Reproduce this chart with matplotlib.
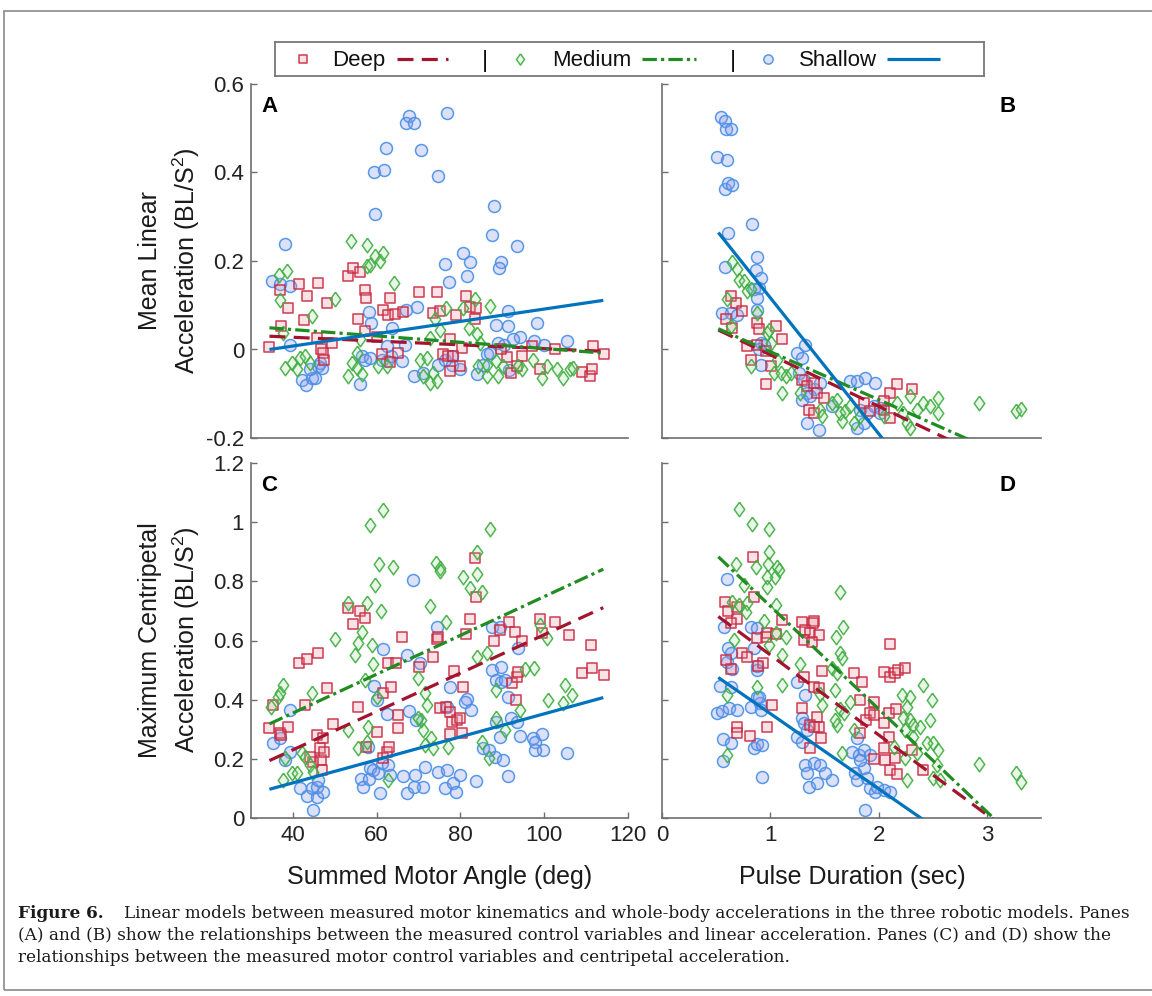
import numpy as np
import matplotlib
matplotlib.use("Agg")
import matplotlib.pyplot as plt
from matplotlib.patches import Rectangle

plt.rcParams['font.family'] = ['Liberation Sans', 'DejaVu Sans']
plt.rcParams['mathtext.fontset'] = 'custom'
plt.rcParams['mathtext.rm'] = 'Liberation Sans'
plt.rcParams['mathtext.it'] = 'Liberation Sans:italic'

# ---- data: (x, y) pairs ----
# panel A: summed motor angle vs mean linear acceleration
a_shallow = [(34.9, 0.154), (36.9, 0.147), (38.0, 0.239), (39.3, 0.143), (39.3, 0.011), (42.1, -0.068),
             (43.1, -0.081), (44.5, -0.064), (45.3, -0.064), (46.1, -0.038), (46.5, -0.030), (46.9, -0.041),
             (44.1, -0.045), (59.4, 0.401), (61.7, 0.405), (62.2, 0.456), (59.7, 0.307), (66.9, 0.512),
             (67.6, 0.527), (68.9, 0.512), (70.7, 0.450), (74.6, 0.393), (76.9, 0.535), (87.9, 0.324),
             (87.5, 0.258), (93.4, 0.234), (89.6, 0.197), (89.3, 0.185), (76.2, 0.194), (77.3, 0.152),
             (81.6, 0.166), (80.7, 0.218), (82.3, 0.198), (58.2, 0.085), (58.6, 0.060), (63.6, 0.049),
             (66.9, 0.090), (69.7, 0.096), (91.4, 0.088), (88.6, 0.056), (91.3, 0.054), (98.2, 0.059),
             (105.5, 0.019), (97.6, 0.019), (99.9, 0.011), (94.1, 0.029), (92.6, 0.023), (89.0, 0.015),
             (90.4, 0.011), (56.0, -0.077), (56.4, -0.015), (57.2, -0.023), (58.4, -0.019), (61.2, -0.023),
             (62.4, -0.026), (63.4, -0.015), (66.0, -0.025), (66.8, 0.011), (69.0, -0.060), (71.1, -0.053),
             (74.7, -0.034), (76.3, -0.023), (78.1, -0.014), (77.9, -0.034), (79.9, -0.045), (83.9, -0.056),
             (85.5, -0.034), (86.3, -0.011), (87.1, -0.008), (91.7, -0.047), (62.4, 0.008)]
a_deep = [(34.3, 0.005), (36.9, 0.134), (37.2, 0.054), (38.9, 0.094), (41.5, 0.147), (42.7, 0.066),
          (43.3, 0.122), (46.1, 0.151), (45.8, 0.026), (46.7, 0.002), (47.3, -0.008), (47.5, -0.023),
          (48.2, 0.104), (49.4, 0.015), (53.2, 0.166), (54.3, 0.185), (56.0, 0.175), (55.5, 0.068),
          (57.1, 0.134), (57.5, 0.117), (57.2, 0.041), (61.6, 0.090), (62.8, 0.079), (63.2, 0.117),
          (64.4, 0.081), (66.2, 0.084), (60.0, 0.028), (61.2, -0.011), (63.2, -0.029), (65.2, -0.008),
          (70.1, 0.130), (73.4, 0.083), (74.3, 0.130), (75.0, 0.087), (77.5, 0.023), (78.9, 0.077),
          (80.3, 0.004), (81.3, 0.122), (82.3, 0.096), (83.6, 0.094), (83.5, 0.068), (75.9, -0.011),
          (77.1, -0.015), (78.3, -0.014), (79.9, -0.038), (77.5, -0.049), (92.1, -0.053), (93.4, -0.038),
          (94.6, -0.014), (91.0, -0.017), (89.6, 0.002), (102.6, 0.002), (99.0, -0.045), (108.9, -0.051),
          (110.9, -0.060), (111.3, -0.044), (111.7, 0.008), (114.3, -0.011), (97.0, 0.008)]
a_medium = [(36.8, 0.169), (38.5, 0.177), (36.9, 0.111), (37.7, 0.038), (38.1, -0.041), (39.7, -0.030),
            (40.9, -0.045), (41.7, -0.019), (42.9, -0.015), (44.5, 0.075), (44.1, -0.030), (50.1, 0.114),
            (53.9, 0.245), (57.8, 0.237), (57.6, 0.188), (58.4, 0.192), (59.6, 0.211), (60.8, 0.200),
            (61.6, 0.217), (64.1, 0.151), (53.2, -0.059), (54.0, -0.030), (55.2, -0.041), (56.4, -0.056),
            (56.0, 0.023), (55.2, -0.008), (60.4, -0.038), (62.4, -0.038), (70.3, -0.023), (71.1, -0.060),
            (71.9, -0.019), (72.7, -0.075), (73.5, -0.053), (74.3, -0.072), (73.9, 0.068), (75.1, 0.045),
            (72.7, 0.026), (76.6, 0.094), (80.7, 0.094), (82.1, 0.049), (83.5, 0.114), (83.9, 0.034),
            (87.1, 0.099), (84.7, 0.015), (84.3, -0.038), (86.3, -0.060), (88.6, -0.026), (89.0, -0.060),
            (90.2, -0.038), (97.4, -0.023), (99.4, -0.064), (100.6, -0.038), (103.0, -0.045), (104.6, -0.064),
            (106.2, -0.045), (106.9, -0.041), (93.8, -0.038), (94.6, -0.045), (86.3, -0.034)]

# panel B: pulse duration vs mean linear acceleration
b_shallow = [(0.543, 0.526), (0.580, 0.516), (0.589, 0.499), (0.641, 0.499), (0.512, 0.435), (0.598, 0.428),
             (0.580, 0.363), (0.610, 0.377), (0.650, 0.371), (0.834, 0.284), (0.613, 0.264), (0.580, 0.186),
             (0.880, 0.209), (0.865, 0.179), (0.911, 0.162), (0.850, 0.136), (0.896, 0.139), (0.558, 0.083),
             (0.635, 0.083), (0.696, 0.079), (0.880, 0.117), (0.880, 0.090), (0.911, 0.015), (0.942, 0.011),
             (0.896, 0.000), (0.911, -0.034), (1.248, -0.008), (1.294, -0.019), (1.325, 0.011), (1.264, -0.053),
             (1.310, -0.068), (1.340, -0.098), (1.402, -0.090), (1.463, -0.075), (1.340, -0.166), (1.448, -0.181),
             (1.571, -0.128), (1.739, -0.072), (1.801, -0.072), (1.877, -0.064), (1.969, -0.075), (1.831, -0.136),
             (1.893, -0.143), (1.954, -0.128), (2.015, -0.132), (1.801, -0.177), (1.862, -0.166), (2.015, -0.143),
             (1.294, -0.113), (1.371, -0.105)]
b_deep = [(0.635, 0.122), (0.681, 0.104), (0.742, 0.087), (0.589, 0.068), (0.650, 0.049), (0.880, 0.060),
          (0.896, 0.047), (1.049, 0.053), (1.110, 0.023), (0.788, 0.008), (0.819, -0.023), (0.880, 0.011),
          (0.957, -0.004), (0.957, -0.077), (1.003, -0.038), (1.294, -0.068), (1.340, -0.083), (1.402, -0.075),
          (1.433, -0.098), (1.494, -0.109), (1.356, -0.136), (1.402, -0.143), (1.862, -0.121), (1.923, -0.139),
          (2.046, -0.136), (2.107, -0.098), (2.169, -0.079), (2.307, -0.090), (2.107, -0.154), (2.046, -0.117)]
b_medium = [(0.650, 0.197), (0.696, 0.181), (0.712, 0.158), (0.758, 0.154), (0.788, 0.132), (0.819, 0.136),
            (0.604, 0.113), (0.635, 0.053), (0.880, 0.083), (0.972, 0.038), (0.988, 0.045), (1.003, 0.015),
            (1.064, -0.023), (0.819, -0.038), (1.034, -0.053), (1.095, -0.053), (1.141, -0.060), (1.110, -0.098),
            (1.279, -0.098), (1.463, -0.136), (1.479, -0.151), (1.571, -0.121), (1.617, -0.113), (1.647, -0.143),
            (1.663, -0.162), (1.693, -0.139), (1.770, -0.166), (2.169, -0.121), (2.230, -0.143), (2.291, -0.105),
            (2.261, -0.166), (2.353, -0.136), (2.414, -0.121), (2.475, -0.128), (2.552, -0.109), (2.552, -0.143),
            (2.926, -0.121), (3.273, -0.139), (3.319, -0.134), (1.831, -0.151), (1.739, -0.128), (1.187, -0.053),
            (2.291, -0.177), (2.046, -0.151)]

# panel C: summed motor angle vs maximum centripetal acceleration
c_shallow = [(35.2, 0.255), (36.9, 0.269), (39.3, 0.365), (39.3, 0.224), (38.1, 0.196), (41.7, 0.100),
             (43.4, 0.074), (44.5, 0.100), (45.7, 0.072), (45.8, 0.106), (47.1, 0.089), (46.1, 0.128),
             (44.9, 0.027), (61.6, 0.570), (59.4, 0.446), (60.0, 0.399), (62.4, 0.352), (67.2, 0.551),
             (67.6, 0.363), (70.3, 0.525), (69.5, 0.331), (56.3, 0.131), (56.8, 0.106), (58.2, 0.131),
             (58.4, 0.168), (58.0, 0.241), (59.2, 0.162), (60.4, 0.151), (61.2, 0.185), (62.8, 0.179),
             (63.2, 0.145), (60.8, 0.086), (66.4, 0.142), (67.2, 0.086), (69.2, 0.145), (71.1, 0.106),
             (74.7, 0.154), (76.2, 0.100), (76.7, 0.162), (78.3, 0.117), (78.9, 0.089), (79.9, 0.145),
             (83.7, 0.126), (81.6, 0.401), (81.1, 0.393), (82.5, 0.365), (76.7, 0.376), (77.5, 0.444),
             (74.5, 0.647), (68.6, 0.805), (87.5, 0.647), (89.4, 0.647), (87.5, 0.500), (89.8, 0.512),
             (88.6, 0.466), (89.8, 0.461), (90.6, 0.466), (91.4, 0.410), (92.0, 0.339), (93.4, 0.326),
             (94.2, 0.277), (89.4, 0.275), (88.6, 0.326), (88.2, 0.207), (90.2, 0.196), (91.4, 0.142),
             (85.5, 0.235), (86.7, 0.230), (97.4, 0.269), (97.8, 0.258), (99.4, 0.284), (99.8, 0.230),
             (97.8, 0.230), (105.5, 0.221), (93.8, 0.574), (68.8, 0.106), (71.5, 0.174)]
c_deep = [(34.3, 0.303), (35.3, 0.382), (36.9, 0.288), (37.2, 0.281), (38.9, 0.306), (41.5, 0.525),
          (43.3, 0.536), (42.9, 0.382), (46.1, 0.557), (45.8, 0.281), (46.5, 0.235), (46.7, 0.196),
          (47.3, 0.269), (47.5, 0.224), (48.2, 0.438), (46.9, 0.162), (44.9, 0.190), (44.1, 0.207),
          (49.5, 0.318), (53.2, 0.711), (54.3, 0.655), (56.0, 0.700), (57.2, 0.675), (55.5, 0.376),
          (57.5, 0.241), (60.0, 0.292), (61.4, 0.421), (61.6, 0.202), (62.4, 0.224), (63.0, 0.241),
          (63.4, 0.444), (62.8, 0.523), (64.6, 0.525), (65.2, 0.348), (65.2, 0.303), (66.0, 0.613),
          (70.1, 0.509), (73.4, 0.543), (74.3, 0.604), (74.7, 0.613), (75.0, 0.371), (76.6, 0.376),
          (77.5, 0.359), (78.1, 0.326), (78.5, 0.498), (79.1, 0.331), (79.9, 0.337), (77.5, 0.284),
          (80.7, 0.444), (81.3, 0.622), (82.3, 0.672), (80.3, 0.288), (83.5, 0.878), (83.6, 0.748),
          (87.9, 0.598), (89.4, 0.635), (91.7, 0.664), (93.0, 0.630), (94.6, 0.598), (92.2, 0.455),
          (93.3, 0.399), (93.4, 0.475), (93.8, 0.495), (99.0, 0.672), (99.4, 0.626), (102.6, 0.664),
          (106.0, 0.619), (108.9, 0.491), (111.3, 0.506), (111.1, 0.585), (114.3, 0.483)]
c_medium = [(34.7, 0.376), (36.5, 0.410), (36.9, 0.421), (37.7, 0.450), (38.1, 0.202), (39.7, 0.151),
            (37.7, 0.128), (40.9, 0.151), (42.1, 0.219), (42.9, 0.207), (44.5, 0.421), (44.1, 0.179),
            (44.9, 0.157), (50.1, 0.604), (53.2, 0.726), (54.8, 0.551), (55.6, 0.590), (56.4, 0.630),
            (57.2, 0.466), (57.6, 0.726), (58.4, 0.990), (57.6, 0.258), (58.0, 0.309), (58.8, 0.585),
            (59.2, 0.521), (59.6, 0.788), (60.0, 0.410), (60.6, 0.859), (61.0, 0.701), (61.6, 1.041),
            (62.8, 0.128), (64.0, 0.850), (55.6, 0.235), (53.2, 0.297), (69.9, 0.474), (71.5, 0.421),
            (71.9, 0.382), (72.7, 0.718), (74.2, 0.861), (75.0, 0.844), (75.1, 0.836), (76.6, 0.664),
            (77.1, 0.241), (80.7, 0.814), (82.3, 0.776), (83.9, 0.824), (83.9, 0.545), (85.1, 0.765),
            (86.3, 0.557), (87.1, 0.976), (83.9, 0.900), (88.6, 0.433), (88.6, 0.337), (85.1, 0.258),
            (86.7, 0.202), (90.6, 0.297), (94.2, 0.365), (95.4, 0.503), (97.6, 0.506), (99.0, 0.652),
            (100.6, 0.607), (101.0, 0.399), (104.6, 0.388), (105.0, 0.450), (106.6, 0.416), (71.1, 0.297),
            (73.0, 0.269), (73.5, 0.235), (71.5, 0.247), (70.7, 0.331), (69.9, 0.337)]

# panel D: pulse duration vs maximum centripetal acceleration
d_shallow = [(0.598, 0.807), (0.574, 0.647), (0.819, 0.647), (0.880, 0.641), (0.610, 0.574), (0.635, 0.557),
             (0.598, 0.528), (0.644, 0.503), (0.874, 0.514), (0.880, 0.500), (0.850, 0.574), (0.537, 0.446),
             (0.635, 0.444), (0.506, 0.356), (0.558, 0.363), (0.620, 0.371), (0.696, 0.365), (0.567, 0.266),
             (0.635, 0.252), (0.567, 0.194), (0.850, 0.235), (0.874, 0.249), (0.926, 0.247), (0.819, 0.376),
             (0.905, 0.388), (0.874, 0.410), (0.911, 0.365), (0.926, 0.137), (0.896, 0.410), (1.248, 0.461),
             (1.325, 0.416), (1.294, 0.337), (1.310, 0.320), (1.248, 0.275), (1.294, 0.258), (1.340, 0.297),
             (1.325, 0.179), (1.402, 0.185), (1.463, 0.179), (1.340, 0.151), (1.356, 0.106), (1.433, 0.117),
             (1.571, 0.128), (1.509, 0.151), (1.801, 0.269), (1.755, 0.224), (1.816, 0.213), (1.862, 0.230),
             (1.923, 0.213), (1.862, 0.168), (1.785, 0.151), (1.801, 0.128), (1.893, 0.134), (1.923, 0.100),
             (1.969, 0.089), (2.046, 0.095), (2.107, 0.089), (1.877, 0.027), (1.985, 0.106), (1.831, 0.196)]
d_deep = [(0.844, 0.881), (0.580, 0.731), (0.610, 0.701), (0.690, 0.714), (0.690, 0.672), (0.635, 0.660),
          (0.850, 0.748), (0.972, 0.624), (0.957, 0.613), (0.880, 0.607), (1.049, 0.622), (1.110, 0.669),
          (1.294, 0.664), (1.402, 0.667), (1.396, 0.658), (1.325, 0.635), (1.365, 0.626), (1.448, 0.619),
          (1.310, 0.602), (1.387, 0.596), (0.742, 0.557), (0.788, 0.543), (0.589, 0.534), (0.641, 0.503),
          (0.936, 0.525), (0.887, 0.514), (1.479, 0.498), (1.402, 0.444), (1.448, 0.438), (1.018, 0.382),
          (1.294, 0.373), (1.433, 0.343), (1.371, 0.314), (1.448, 0.309), (1.402, 0.309), (1.472, 0.269),
          (0.972, 0.306), (0.690, 0.306), (0.690, 0.286), (0.813, 0.277), (1.371, 0.235), (2.107, 0.588),
          (2.046, 0.492), (2.107, 0.478), (2.153, 0.489), (2.184, 0.500), (2.245, 0.508), (1.770, 0.491),
          (1.847, 0.459), (1.831, 0.399), (1.954, 0.393), (1.923, 0.354), (1.887, 0.331), (1.954, 0.348),
          (2.046, 0.320), (2.092, 0.356), (2.160, 0.367), (1.825, 0.288), (2.092, 0.275), (2.046, 0.235),
          (2.153, 0.202), (2.107, 0.162), (2.169, 0.148), (2.307, 0.230), (2.408, 0.162), (1.954, 0.199),
          (2.061, 0.196), (1.310, 0.475)]
d_medium = [(0.712, 1.043), (0.828, 0.993), (0.988, 0.976), (0.988, 0.900), (0.979, 0.859), (1.058, 0.847),
            (1.080, 0.838), (1.040, 0.816), (0.966, 0.814), (0.972, 0.782), (0.681, 0.859), (0.865, 0.850),
            (0.758, 0.788), (0.650, 0.731), (0.712, 0.720), (0.788, 0.728), (0.773, 0.697), (1.049, 0.720),
            (0.942, 0.667), (1.049, 0.624), (1.141, 0.613), (0.666, 0.602), (0.988, 0.585), (1.110, 0.551),
            (1.273, 0.521), (0.880, 0.444), (1.110, 0.450), (0.604, 0.416), (0.604, 0.213), (1.647, 0.765),
            (1.672, 0.647), (1.610, 0.613), (1.647, 0.557), (1.663, 0.540), (1.571, 0.506), (1.617, 0.489),
            (1.601, 0.433), (1.463, 0.419), (1.479, 0.382), (1.647, 0.367), (1.678, 0.354), (1.617, 0.314),
            (1.601, 0.331), (1.733, 0.393), (1.770, 0.297), (1.663, 0.219), (2.215, 0.416), (2.291, 0.410),
            (2.261, 0.376), (2.230, 0.337), (2.291, 0.331), (2.322, 0.314), (2.245, 0.297), (2.322, 0.275),
            (2.408, 0.450), (2.491, 0.399), (2.383, 0.309), (2.475, 0.331), (2.506, 0.252), (2.552, 0.230),
            (2.445, 0.252), (2.245, 0.202), (2.261, 0.128), (2.537, 0.179), (2.506, 0.134), (2.567, 0.128),
            (2.926, 0.183), (3.273, 0.151), (3.319, 0.123), (2.138, 0.241), (2.353, 0.219)]

# linear fits (slope, intercept) per panel: deep, medium, shallow
fit_a = [(-0.000427, 0.0447), (-0.000715, 0.0736), (0.001393, -0.0479)]
fit_b = [(-0.1164, 0.1045), (-0.1083, 0.1033), (-0.307, 0.424)]
fit_c = [(0.006487, -0.0291), (0.006562, 0.0923), (0.00389, -0.0368)]
fit_d = [(-0.2702, 0.8215), (-0.3476, 1.0638), (-0.254, 0.607)]
angle_range = (34.4, 114.1)
pulse_range = (0.52, 3.32)

series_names = ['Deep', 'Medium', 'Shallow']

# ---- styles ----
diamond = [(0, 1), (0.72, 0), (0, -1), (-0.72, 0), (0, 1)]
styles = {
    'Deep': dict(marker='s', s=52, edgecolors=(0.78, 0.16, 0.25, 0.9), facecolors=(0.93, 0.55, 0.62, 0.25)),
    'Medium': dict(marker=diamond, s=110, edgecolors=(0.25, 0.68, 0.25, 0.9), facecolors=(0.55, 0.85, 0.55, 0.2)),
    'Shallow': dict(marker='o', s=74, edgecolors=(0.28, 0.56, 0.9, 0.9), facecolors=(0.55, 0.6, 0.92, 0.3)),
}
line_styles = {
    'Deep': dict(color=(0.64, 0.08, 0.18), lw=2.3, dashes=(5, 2.6)),
    'Medium': dict(color=(0.13, 0.55, 0.13), lw=2.3, dashes=(4.5, 1.3, 1, 1.3)),
    'Shallow': dict(color=(0.0, 0.45, 0.74), lw=2.3),
}
spine_color = '#6e6e6e'

W, H = 1152, 996
fig = plt.figure(figsize=(W / 100, H / 100), dpi=100)


def px_rect(left, top, right, bottom):
    return [left / W, 1 - bottom / H, (right - left) / W, (bottom - top) / H]


axA = fig.add_axes(px_rect(251, 84, 628, 438))
axB = fig.add_axes(px_rect(662, 84, 1041, 438))
axC = fig.add_axes(px_rect(251, 463, 628, 818))
axD = fig.add_axes(px_rect(662, 463, 1041, 818))

panels = [
    (axA, [a_deep, a_medium, a_shallow], fit_a, angle_range, 'A', 'left'),
    (axB, [b_deep, b_medium, b_shallow], fit_b, pulse_range, 'B', 'right'),
    (axC, [c_deep, c_medium, c_shallow], fit_c, angle_range, 'C', 'left'),
    (axD, [d_deep, d_medium, d_shallow], fit_d, pulse_range, 'D', 'right'),
]

for ax, data, fits, xr, letter, side in panels:
    # draw shallow first, then deep, then medium
    for idx in [2, 0, 1]:
        pts = np.array(data[idx])
        ax.scatter(pts[:, 0], pts[:, 1], linewidths=1.1, zorder=2, **styles[series_names[idx]])
    xs = np.array(xr)
    for idx in [0, 1, 2]:
        slope, icpt = fits[idx]
        ax.plot(xs, slope * xs + icpt, zorder=3, solid_capstyle='butt', dash_capstyle='butt',
                **line_styles[series_names[idx]])
    for sp in ['top', 'right']:
        ax.spines[sp].set_visible(False)
    for sp in ['left', 'bottom']:
        ax.spines[sp].set_color(spine_color)
        ax.spines[sp].set_linewidth(1.2)
    ax.tick_params(direction='in', length=4, width=1, color=spine_color, labelsize=16,
                   labelcolor='#222222', pad=5)
    if side == 'left':
        ax.text(0.027, 0.965, letter, transform=ax.transAxes, fontsize=16, fontweight='bold', va='top', ha='left')
    else:
        ax.text(0.932, 0.965, letter, transform=ax.transAxes, fontsize=16, fontweight='bold', va='top', ha='right')

for ax in [axA, axC]:
    ax.set_xlim(30, 120)
    ax.set_xticks([40, 60, 80, 100, 120])
for ax in [axB, axD]:
    ax.set_xlim(0, 3.5)
    ax.set_xticks([0, 1, 2, 3])
    ax.tick_params(labelleft=False)
for ax in [axA, axB]:
    ax.set_ylim(-0.2, 0.6)
    ax.set_yticks([-0.2, 0, 0.2, 0.4, 0.6])
    ax.tick_params(labelbottom=False, bottom=False)
for ax in [axC, axD]:
    ax.set_ylim(0, 1.2)
    ax.set_yticks([0, 0.2, 0.4, 0.6, 0.8, 1.0, 1.2])

axA.set_yticklabels(['-0.2', '0', '0.2', '0.4', '0.6'])
axC.set_yticklabels(['0', '0.2', '0.4', '0.6', '0.8', '1', '1.2'])

# axis labels
lab = dict(fontsize=18, color='#1a1a1a', ha='center', va='center')
fig.text(440 / W, 1 - 877 / H, 'Summed Motor Angle (deg)', **lab)
fig.text(852 / W, 1 - 877 / H, 'Pulse Duration (sec)', **lab)
fig.text(150 / W, 1 - 261 / H, 'Mean Linear', rotation=90, **lab)
fig.text(186 / W, 1 - 261 / H, 'Acceleration (BL/S$^2$)', rotation=90, **lab)
fig.text(150 / W, 1 - 640 / H, 'Maximum Centripetal', rotation=90, **lab)
fig.text(186 / W, 1 - 640 / H, 'Acceleration (BL/S$^2$)', rotation=90, **lab)

# legend drawn in its own axes, in pixel units of the figure
lg = fig.add_axes(px_rect(275, 42, 984, 76))
lg.set_xlim(275, 984)
lg.set_ylim(0, 1)
lg.set_xticks([])
lg.set_yticks([])
for sp in lg.spines.values():
    sp.set_color('#777777')
    sp.set_linewidth(1.3)
legend_items = [('Deep', 303, 332, 397, 448), ('Medium', 520, 552, 642, 696), ('Shallow', 768, 799, 887, 940)]
for name, mx, tx, l0, l1 in legend_items:
    st = dict(styles[name])
    st['s'] = st['s'] * 0.6
    lg.scatter([mx], [0.5], linewidths=1.1, **st)
    lg.text(tx, 0.47, name, fontsize=16, va='center', ha='left', color='#111111')
    lg.plot([l0, l1], [0.5, 0.5], solid_capstyle='butt', dash_capstyle='butt', **line_styles[name])
for sx in [485, 733]:
    lg.text(sx, 0.45, '|', fontsize=17, va='center', ha='center', color='#111111')

# outer frame
fig.patches.append(Rectangle((4 / W, 1 - 990 / H), 1.2, (990 - 11) / H, transform=fig.transFigure,
                             fill=False, edgecolor='#8a8a8a', linewidth=1.2))

# caption, sized so the first line runs to the right margin
cap_lines = ['Linear models between measured motor kinematics and whole-body accelerations in the three robotic models. Panes',
             '(A) and (B) show the relationships between the measured control variables and linear acceleration. '
             'Panes (C) and (D) show the',
             'relationships between the measured motor control variables and centripetal acceleration.']
cap_font = ['DejaVu Serif', 'Liberation Serif']
renderer = fig.canvas.get_renderer()
size = 12.0
t0 = fig.text(18 / W, 1 - 913 / H, 'Figure 6.', fontweight='bold', fontsize=size, family=cap_font,
              color='#1a1a1a', va='center', ha='left')
probe = fig.text(124 / W, 1 - 913 / H, cap_lines[0], fontsize=size, family=cap_font,
                 color='#1a1a1a', va='center', ha='left')
w = probe.get_window_extent(renderer).width
size = size * (1126 - 124) / w
probe.set_fontsize(size)
t0.set_fontsize(size)
for k, yy in [(1, 935), (2, 957)]:
    fig.text(18 / W, 1 - yy / H, cap_lines[k], fontsize=size, family=cap_font,
             color='#1a1a1a', va='center', ha='left')

fig.savefig('out.png', dpi=100)
